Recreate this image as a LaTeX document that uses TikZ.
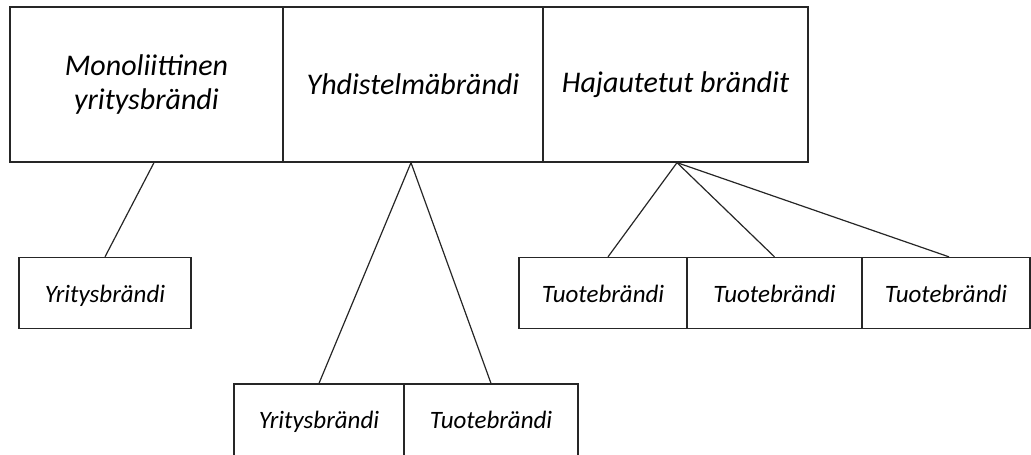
\documentclass[tikz,border=0pt]{standalone}
\usepackage{fontspec}
\setmainfont{Carlito}
\begin{document}
\begin{tikzpicture}[x=1pt,y=-1pt,
  box/.style={draw=black!85, line width=1.3pt, inner sep=0pt, align=center},
  bigbox/.style={box, minimum height=155pt, font=\itshape\fontsize{30}{35}\selectfont},
  smallbox/.style={box, minimum height=71pt, text height=20pt, text depth=2pt, font=\itshape\fontsize{25}{28}\selectfont},
  lowbox/.style={smallbox, minimum height=76pt, text height=17pt, text depth=5pt},
  link/.style={draw=black!85, line width=1.2pt}]
\useasboundingbox (0,0) rectangle (1031,455);
% top row
\node[bigbox, minimum width=273pt] (m) at (146.5,84.5) {Monoliittinen\\yritysbrändi};
\node[bigbox, minimum width=260pt] (h) at (413,84.5) {Yhdistelmäbrändi};
\node[bigbox, minimum width=265pt] (d) at (675.5,84.5) {Hajautetut brändit};
% left child
\node[smallbox, minimum width=172pt] (yr) at (105,293) {Yritysbrändi};
% middle children
\node[lowbox, minimum width=170pt] (yb) at (319,422) {Yritysbrändi};
\node[lowbox, minimum width=174pt] (tb) at (491,422) {Tuotebrändi};
% right children
\node[smallbox, minimum width=168pt] (t1) at (603,293) {Tuotebrändi};
\node[smallbox, minimum width=175pt] (t2) at (774.5,293) {Tuotebrändi};
\node[smallbox, minimum width=168pt] (t3) at (946,293) {Tuotebrändi};
% connectors
\draw[link] ([xshift=7.5pt]m.south) -- (yr.north);
\draw[link] ([xshift=-2pt]h.south) -- (yb.north);
\draw[link] ([xshift=-2pt]h.south) -- (tb.north);
\draw[link] ([xshift=1.5pt]d.south) -- ([xshift=5pt]t1.north);
\draw[link] ([xshift=1.5pt]d.south) -- (t2.north);
\draw[link] ([xshift=1.5pt]d.south) -- ([xshift=3pt]t3.north);
\end{tikzpicture}
\end{document}
